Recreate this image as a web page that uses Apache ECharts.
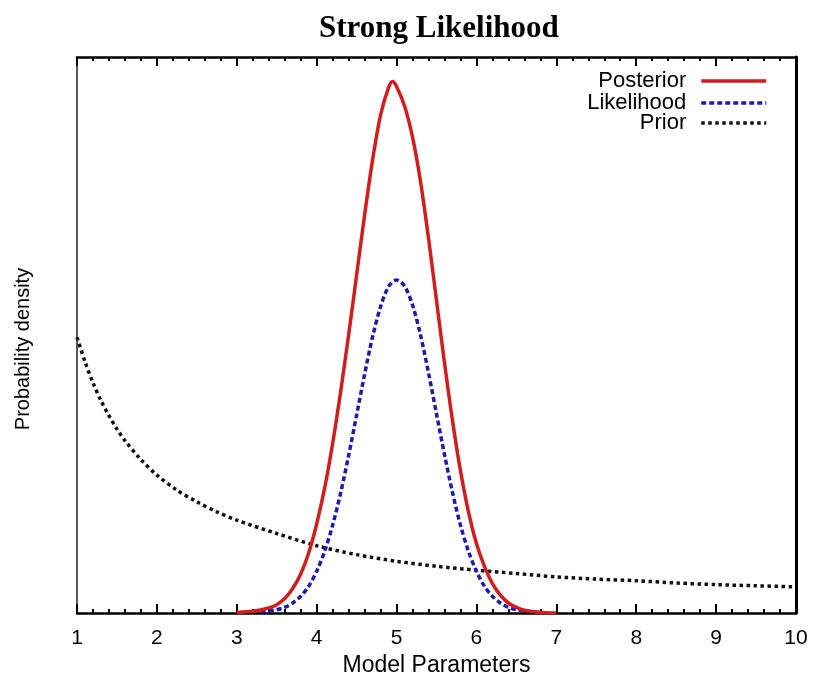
<!DOCTYPE html>
<html>
<head>
<meta charset="utf-8">
<script src="https://cdn.jsdelivr.net/npm/echarts@6/dist/echarts.min.js"></script>
<style>html,body{margin:0;padding:0;background:#fff;}#c{width:815px;height:683px;}</style>
</head>
<body>
<div id="c"></div>
<script>
// ---- data ----
const titleText = 'Strong Likelihood';
const xName = 'Model Parameters';
const yName = 'Probability density';
const seriesNames = ['Posterior', 'Likelihood', 'Prior'];
const xTicks = [1, 2, 3, 4, 5, 6, 7, 8, 9, 10];

const postX = [3.0, 3.2, 3.4, 3.5, 3.6, 3.7, 3.8, 3.9, 4.0, 4.1, 4.2, 4.3, 4.4, 4.5, 4.6, 4.7, 4.8, 4.9, 4.95, 5.0,
               5.1, 5.2, 5.3, 5.4, 5.5, 5.6, 5.7, 5.8, 5.9, 6.0, 6.1, 6.2, 6.3, 6.4, 6.5, 6.6, 6.8, 7.0];
const postY = [0.001, 0.003, 0.009, 0.015, 0.026, 0.044, 0.070, 0.108, 0.160, 0.225, 0.305, 0.398, 0.500, 0.608, 0.716, 0.815, 0.896, 0.945, 0.956, 0.947,
               0.912, 0.856, 0.776, 0.674, 0.562, 0.450, 0.346, 0.256, 0.182, 0.125, 0.084, 0.053, 0.032, 0.018, 0.010, 0.005, 0.001, 0.000];

const likeX = [3.3, 3.5, 3.6, 3.7, 3.8, 3.9, 4.0, 4.1, 4.2, 4.3, 4.4, 4.5, 4.6, 4.7, 4.8, 4.9, 5.0,
               5.1, 5.2, 5.3, 5.4, 5.5, 5.6, 5.7, 5.8, 5.9, 6.0, 6.1, 6.2, 6.3, 6.4, 6.5, 6.7, 6.9];
const likeY = [0.002, 0.006, 0.010, 0.018, 0.030, 0.048, 0.075, 0.111, 0.158, 0.216, 0.283, 0.356, 0.429, 0.497, 0.551, 0.587, 0.599,
               0.588, 0.554, 0.500, 0.432, 0.358, 0.285, 0.217, 0.158, 0.111, 0.075, 0.048, 0.030, 0.018, 0.010, 0.006, 0.002, 0.000];

const priorX = [1.0, 1.1, 1.2, 1.3, 1.4, 1.5, 1.6, 1.8, 2.0, 2.25, 2.5, 2.75, 3.0, 3.5, 4.0, 4.5, 5.0, 5.5, 6.0, 6.5, 7.0, 7.5, 8.0, 8.5, 9.0, 9.5, 10.0];
const priorY = [0.496, 0.452, 0.414, 0.382, 0.355, 0.331, 0.310, 0.276, 0.248, 0.221, 0.200, 0.182, 0.167, 0.143, 0.121, 0.105, 0.093, 0.084, 0.077, 0.071, 0.065, 0.061, 0.058, 0.054, 0.051, 0.049, 0.047];

// ---- chart ----
const pair = (xs, ys) => xs.map((x, i) => [x, ys[i]]);
const SANS = '"Liberation Sans", Arial, sans-serif';
const colors = ['#d21d1d', '#1b1bb0', '#111111'];
const dashes = ['solid', [5, 3], [3.5, 3.5]];

const chart = echarts.init(document.getElementById('c'), null, {renderer: 'canvas'});

function legendFor(i, top) {
  return {
    data: [seriesNames[i]],
    right: 47, top: top, orient: 'vertical', align: 'right', padding: 0,
    itemWidth: 65, itemHeight: 12, selectedMode: false,
    itemStyle: {opacity: 0},
    lineStyle: {width: 3.5, type: dashes[i], color: colors[i]},
    textStyle: {fontFamily: SANS, fontSize: 22, color: '#000', padding: [0, 10, 0, 0]}
  };
}

const tickCfg = {show: true, inside: true, length: 9, lineStyle: {color: '#000', width: 2}};
const minorCfg = {show: true, splitNumber: 5, length: 4, lineStyle: {color: '#000', width: 2}};

const option = {
  animation: false,
  backgroundColor: '#fff',
  title: {
    text: titleText, left: 314, top: 8,
    textStyle: {fontFamily: '"Liberation Serif", "Times New Roman", serif', fontWeight: 'bold', fontSize: 31, color: '#000'}
  },
  legend: [legendFor(0, 70), legendFor(1, 92), legendFor(2, 112)],
  grid: {left: 77, right: 19, top: 57, bottom: 70, containLabel: false},
  xAxis: [{
    type: 'value', min: xTicks[0], max: xTicks[xTicks.length - 1], interval: 1, position: 'bottom',
    name: xName, nameLocation: 'middle', nameGap: 40,
    nameTextStyle: {fontFamily: SANS, fontSize: 23, color: '#000'},
    axisLine: {show: true, onZero: false, lineStyle: {color: '#000', width: 2.5}},
    axisTick: tickCfg, minorTick: minorCfg,
    axisLabel: {show: true, fontFamily: SANS, fontSize: 21, color: '#000', margin: 15},
    splitLine: {show: false}
  }, {
    type: 'value', min: xTicks[0], max: xTicks[xTicks.length - 1], interval: 1, position: 'top',
    axisLine: {show: true, onZero: false, lineStyle: {color: '#000', width: 2.5}},
    axisTick: tickCfg, minorTick: minorCfg,
    axisLabel: {show: false},
    splitLine: {show: false}
  }],
  yAxis: [{
    type: 'value', min: 0, max: 1, position: 'left',
    name: yName, nameLocation: 'middle', nameGap: 44,
    nameTextStyle: {fontFamily: SANS, fontSize: 20, color: '#000', padding: [0, 28, 0, 0]},
    axisLine: {show: true, onZero: false, lineStyle: {color: '#222', width: 1.5}},
    axisTick: {show: false}, axisLabel: {show: false}, splitLine: {show: false}
  }, {
    type: 'value', min: 0, max: 1, position: 'right',
    axisLine: {show: true, onZero: false, lineStyle: {color: '#000', width: 3}},
    axisTick: {show: false}, axisLabel: {show: false}, splitLine: {show: false}
  }],
  series: [{
    name: seriesNames[0], type: 'line', data: pair(postX, postY), symbol: 'none',
    smooth: 0.3, color: colors[0],
    lineStyle: {color: colors[0], width: 3.5, type: dashes[0]}, z: 4
  }, {
    name: seriesNames[1], type: 'line', data: pair(likeX, likeY), symbol: 'none',
    smooth: 0.3, color: colors[1],
    lineStyle: {color: colors[1], width: 3.5, type: dashes[1]}, z: 3
  }, {
    name: seriesNames[2], type: 'line', data: pair(priorX, priorY), symbol: 'none',
    smooth: 0.3, color: colors[2],
    lineStyle: {color: colors[2], width: 3.5, type: dashes[2]}, z: 2
  }]
};
chart.setOption(option);
</script>
</body>
</html>
